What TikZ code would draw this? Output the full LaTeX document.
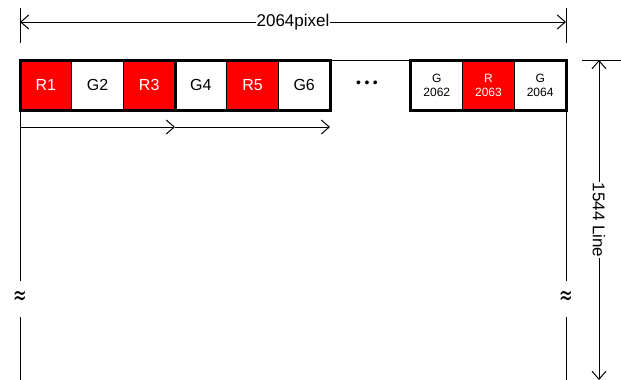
\documentclass[tikz,border=0pt]{standalone}
\usepackage{fontspec}
\setmainfont{Liberation Sans}
\newfontfamily\symfont{DejaVu Sans}
\usetikzlibrary{arrows.meta,positioning}
\begin{document}
\begin{tikzpicture}[x=1pt,y=-1pt,
  cell/.style={draw, line width=1pt, minimum width=51.67pt, minimum height=50pt,
    inner sep=0pt, outer sep=0pt, align=center, font=\fontsize{16}{16}\selectfont},
  redcell/.style={cell, fill=red, text=white},
  smallcell/.style={font=\fontsize{12}{14}\selectfont},
  frame/.style={line width=3pt, line join=miter},
  guide/.style={line width=1pt},
  barb/.tip={Straight Barb[length=8pt,width=14pt]},
  dimboth/.style={guide, barb-barb},
  dimone/.style={guide, -barb},
  lbl/.style={font=\fontsize{17}{17}\selectfont, fill=white, inner sep=0.5pt},
  brk/.style={font=\symfont\fontsize{18}{18}\selectfont, inner sep=0pt}]
\useasboundingbox (0,0) rectangle (621,380);

% first six pixels of the line
\node[redcell, anchor=north west] (c1) at (20,60) {R1};
\node[cell, right=0pt of c1] (c2) {G2};
\node[redcell, right=0pt of c2] (c3) {R3};
\node[cell, right=0pt of c3] (c4) {G4};
\node[redcell, right=0pt of c4] (c5) {R5};
\node[cell, right=0pt of c5] (c6) {G6};

% last three pixels of the line
\node[cell, smallcell, anchor=north east] (d3) at (566,60) {G\\2064};
\node[redcell, smallcell, left=0pt of d3] (d2) {R\\2063};
\node[cell, smallcell, left=0pt of d2] (d1) {G\\2062};

% group frames
\draw[frame] (c1.north west) rectangle (c3.south east);
\draw[frame] (c4.north west) rectangle (c6.south east);
\draw[frame] (d1.north west) rectangle (d3.south east);
\draw[guide] (c6.north east) -- (d1.north west);

\node[font=\fontsize{14}{14}\selectfont, inner sep=0pt] (dots) at (367,84) {•\hspace{3.5pt}•\hspace{3.5pt}•};

% readout order arrows
\coordinate (a0) at (20,127);
\coordinate (a1) at (c3.south east |- a0);
\coordinate (a2) at (c6.south east |- a0);
\draw[dimone] (a0) -- (a1);
\draw[dimone] (a1) -- (a2);

% horizontal dimension
\coordinate (tl1) at (20,8);
\coordinate (tl2) at (20,43);
\coordinate (tr1) at (566,8);
\coordinate (tr2) at (566,43);
\draw[guide] (tl1) -- (tl2);
\draw[guide] (tr1) -- (tr2);
\coordinate (hl) at (20,22);
\coordinate (hr) at (566,22);
\draw[dimboth] (hl) -- node[lbl] (wlabel) {2064pixel} (hr);

% side edges with break marks
\node[brk] (bl) at (20,298) {\scalebox{0.9}[1.5]{≈}};
\node[brk] (br) at (566,298) {\scalebox{0.9}[1.5]{≈}};
\coordinate (lb) at (20,281);
\coordinate (lc) at (20,317);
\coordinate (le) at (20,380);
\coordinate (rb) at (566,281);
\coordinate (rc) at (566,317);
\coordinate (re) at (566,380);
\draw[guide] (c1.south west) -- (lb);
\draw[guide] (lc) -- (le);
\draw[guide] (d3.south east) -- (rb);
\draw[guide] (rc) -- (re);

% vertical dimension
\coordinate (vt1) at (582,60);
\coordinate (vt2) at (621,60);
\draw[guide] (vt1) -- (vt2);
\coordinate (vtop) at (599,60);
\coordinate (vbot) at (599,380);
\draw[dimboth] (vtop) -- node[lbl, rotate=-90] (hlabel) {1544 Line} (vbot);
\end{tikzpicture}
\end{document}
